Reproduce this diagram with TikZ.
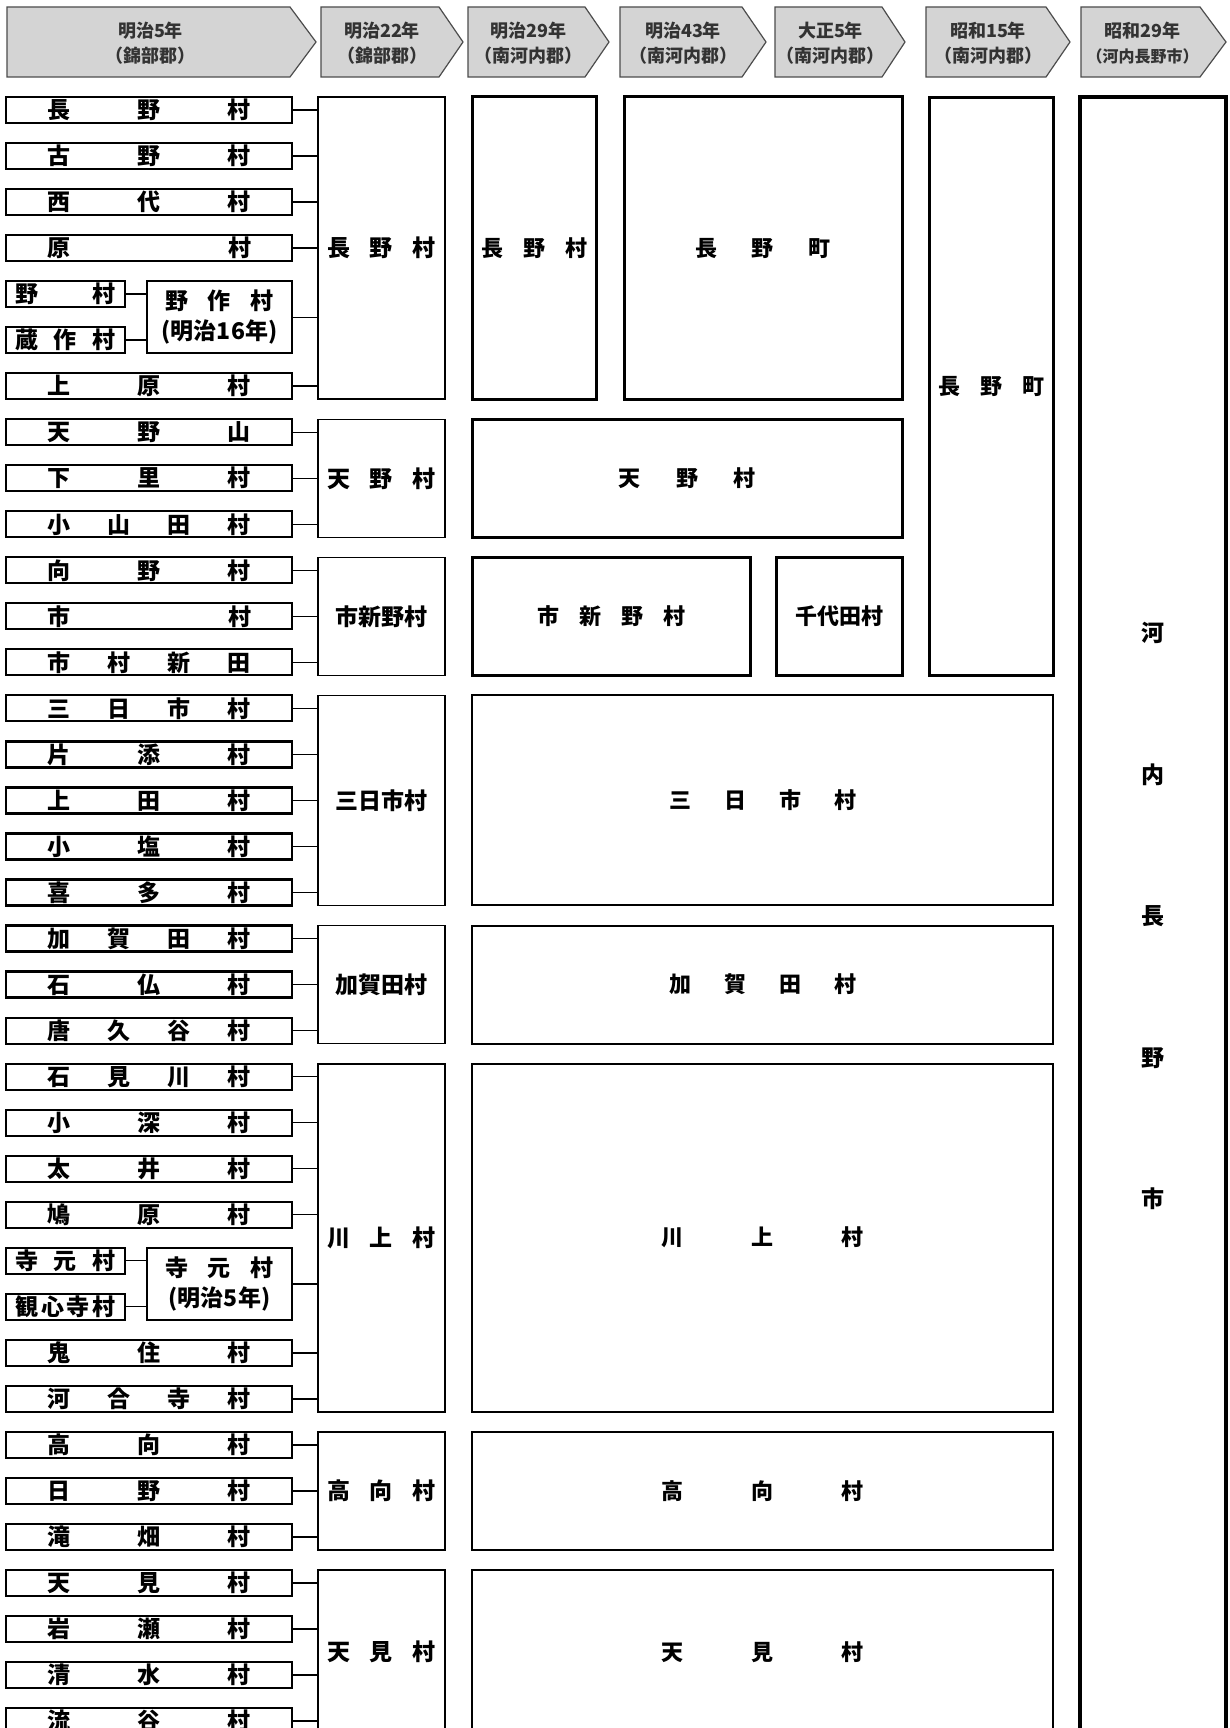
\documentclass[tikz,border=0pt]{standalone}
\usepackage{fontspec}
\setmainfont{Noto Sans CJK JP}

\tikzset{
  hdr/.style={draw=black!70, line width=1.2pt, fill=black!17},
  hdrtext/.style={align=center, inner sep=0pt, text=black!80, font=\bfseries\fontsize{18}{25}\selectfont},
  mura/.style={draw, line width=2.2pt, minimum width=286pt, minimum height=26pt, inner sep=0pt, font=\bfseries\fontsize{23}{26}\selectfont},
  komura/.style={mura, minimum width=119pt},
  gappei/.style={draw, line width=1.6pt, inner sep=0pt, align=center, font=\bfseries\fontsize{23}{30}\selectfont},
  futo/.style={draw, line width=3pt, inner sep=0pt, align=center, font=\bfseries\fontsize{22}{26}\selectfont},
  hoso/.style={futo, line width=2pt},
  tsunagi/.style={line width=1.4pt},
}
\newcommand\kintou[2]{\makebox[#1][s]{#2}}

\begin{document}
\begin{tikzpicture}[x=1pt,y=-1pt]
  \useasboundingbox (0,0) rectangle (1230,1728);
  \clip (0,0) rectangle (1230,1728);
  \fill[white] (0,0) rectangle (1230,1728);

  % year headers
  \foreach \lx/\bx/\px/\txt [count=\i] in {
      7/290/316/{明治5年\\（錦部郡）},
      321/439/463/{明治22年\\（錦部郡）},
      468/585/609/{明治29年\\（南河内郡）},
      620/742/766/{明治43年\\（南河内郡）},
      775/882/905/{大正5年\\（南河内郡）},
      926/1046/1070/{昭和15年\\（南河内郡）},
      1081/1200/1226/{昭和29年\\{\fontsize{16}{25}\selectfont（河内長野市）}}} {
    \draw[hdr] (\lx,7) -- (\bx,7) -- (\px,42) -- (\bx,77) -- (\lx,77) -- cycle;
    \node[hdrtext] (h\i) at ({(\lx+\bx)/2+2},43) {\txt};
  }

  % 明治22年: new villages
  \node[gappei, minimum width=127pt, minimum height=302pt] (nagano22) at (381.5,248) {\kintou{108pt}{長\hfil 野\hfil 村}};
  \node[gappei, minimum width=127pt, minimum height=118pt] (amano22) at (381.5,478.3) {\kintou{108pt}{天\hfil 野\hfil 村}};
  \node[gappei, minimum width=127pt, minimum height=118pt] (ichishinno22) at (381.5,616.3) {市新野村};
  \node[gappei, minimum width=127pt, minimum height=210pt] (mikkaichi22) at (381.5,800.4) {三日市村};
  \node[gappei, minimum width=127pt, minimum height=118pt] (kagata22) at (381.5,984.5) {加賀田村};
  \node[gappei, minimum width=127pt, minimum height=348pt] (kawakami22) at (381.5,1237.7) {\kintou{108pt}{川\hfil 上\hfil 村}};
  \node[gappei, minimum width=127pt, minimum height=118pt] (takamuku22) at (381.5,1490.9) {\kintou{108pt}{高\hfil 向\hfil 村}};
  \node[gappei, minimum width=127pt, minimum height=164pt] (amami22) at (381.5,1652) {\kintou{108pt}{天\hfil 見\hfil 村}};

  % earlier mergers (明治16年, 明治5年)
  \node[gappei, minimum width=145pt, minimum height=72pt] (nosaku) at (219.5,317.2) {\kintou{108pt}{野\hfil 作\hfil 村}\\(明治16年)};
  \node[gappei, minimum width=145pt, minimum height=72pt] (teramoto) at (219.5,1283.8) {\kintou{108pt}{寺\hfil 元\hfil 村}\\(明治5年)};
  \draw[tsunagi] (nosaku.east) -- (nosaku.east -| nagano22.west);
  \draw[tsunagi] (teramoto.east) -- (teramoto.east -| kawakami22.west);

  % villages of 明治5年
  \foreach \k/\txt/\grp in {
      0/{長\hfil 野\hfil 村}/nagano22, 1/{古\hfil 野\hfil 村}/nagano22,
      2/{西\hfil 代\hfil 村}/nagano22, 3/{原\hfil 村}/nagano22,
      6/{上\hfil 原\hfil 村}/nagano22,
      7/{天\hfil 野\hfil 山}/amano22, 8/{下\hfil 里\hfil 村}/amano22,
      9/{小\hfil 山\hfil 田\hfil 村}/amano22,
      10/{向\hfil 野\hfil 村}/ichishinno22, 11/{市\hfil 村}/ichishinno22,
      12/{市\hfil 村\hfil 新\hfil 田}/ichishinno22,
      13/{三\hfil 日\hfil 市\hfil 村}/mikkaichi22, 14/{片\hfil 添\hfil 村}/mikkaichi22,
      15/{上\hfil 田\hfil 村}/mikkaichi22, 16/{小\hfil 塩\hfil 村}/mikkaichi22,
      17/{喜\hfil 多\hfil 村}/mikkaichi22,
      18/{加\hfil 賀\hfil 田\hfil 村}/kagata22, 19/{石\hfil 仏\hfil 村}/kagata22,
      20/{唐\hfil 久\hfil 谷\hfil 村}/kagata22,
      21/{石\hfil 見\hfil 川\hfil 村}/kawakami22, 22/{小\hfil 深\hfil 村}/kawakami22,
      23/{太\hfil 井\hfil 村}/kawakami22, 24/{鳩\hfil 原\hfil 村}/kawakami22,
      27/{鬼\hfil 住\hfil 村}/kawakami22, 28/{河\hfil 合\hfil 寺\hfil 村}/kawakami22,
      29/{高\hfil 向\hfil 村}/takamuku22, 30/{日\hfil 野\hfil 村}/takamuku22,
      31/{滝\hfil 畑\hfil 村}/takamuku22,
      32/{天\hfil 見\hfil 村}/amami22, 33/{岩\hfil 瀬\hfil 村}/amami22,
      34/{清\hfil 水\hfil 村}/amami22, 35/{流\hfil 谷\hfil 村}/amami22} {
    \node[mura] (r\k) at (149,{110+46.03*\k}) {\kintou{204pt}{\txt}};
    \draw[tsunagi] (r\k.east) -- (r\k.east -| \grp.west);
  }

  % small villages merged before 明治22年
  \node[komura] (r4) at (65.5,{110+46.03*4}) {\kintou{100pt}{野\hfil 村}};
  \node[komura] (r5) at (65.5,{110+46.03*5}) {\kintou{100pt}{蔵\hfil 作\hfil 村}};
  \node[komura] (r25) at (65.5,{110+46.03*25}) {\kintou{100pt}{寺\hfil 元\hfil 村}};
  \node[komura] (r26) at (65.5,{110+46.03*26}) {\kintou{100pt}{観\hfil 心\hfil 寺\hfil 村}};
  \draw[tsunagi] (r4.east) -- (r4.east -| nosaku.west);
  \draw[tsunagi] (r5.east) -- (r5.east -| nosaku.west);
  \draw[tsunagi] (r25.east) -- (r25.east -| teramoto.west);
  \draw[tsunagi] (r26.east) -- (r26.east -| teramoto.west);

  % 明治29年 to 昭和15年
  \node[futo, minimum width=124pt, minimum height=302pt] (nagano29) at (534,248) {\kintou{106pt}{長\hfil 野\hfil 村}};
  \node[futo, minimum width=278pt, minimum height=302pt] (naganocho43) at (763,248) {\kintou{136pt}{長\hfil 野\hfil 町}};
  \node[futo, minimum width=430pt, minimum height=118pt] (amano29) at (687,478.3) {\kintou{138pt}{天\hfil 野\hfil 村}};
  \node[futo, minimum width=278pt, minimum height=118pt] (ichishinno29) at (611,616.3) {\kintou{148pt}{市\hfil 新\hfil 野\hfil 村}};
  \node[futo, minimum width=126pt, minimum height=118pt] (chiyoda) at (839,616.3) {千代田村};
  \node[futo, minimum width=124pt, minimum height=578pt] (naganocho15) at (991,386.2) {\kintou{106pt}{長\hfil 野\hfil 町}};
  \node[hoso, minimum width=581pt, minimum height=210pt] (mikkaichi29) at (762.5,800.4) {\kintou{187pt}{三\hfil 日\hfil 市\hfil 村}};
  \node[hoso, minimum width=581pt, minimum height=118pt] (kagata29) at (762.5,984.5) {\kintou{187pt}{加\hfil 賀\hfil 田\hfil 村}};
  \node[hoso, minimum width=581pt, minimum height=348pt] (kawakami29) at (762.5,1237.7) {\kintou{202pt}{川\hfil 上\hfil 村}};
  \node[hoso, minimum width=581pt, minimum height=118pt] (takamuku29) at (762.5,1490.9) {\kintou{202pt}{高\hfil 向\hfil 村}};
  \node[hoso, minimum width=581pt, minimum height=164pt] (amami29) at (762.5,1652) {\kintou{202pt}{天\hfil 見\hfil 村}};

  % 昭和29年: the city
  \node[futo, line width=3.5pt, minimum width=146pt, minimum height=1638pt, font=\bfseries\fontsize{23}{141.5}\selectfont] (kawachinagano) at (1153,916) {河\\内\\長\\野\\市};
\end{tikzpicture}
\end{document}
